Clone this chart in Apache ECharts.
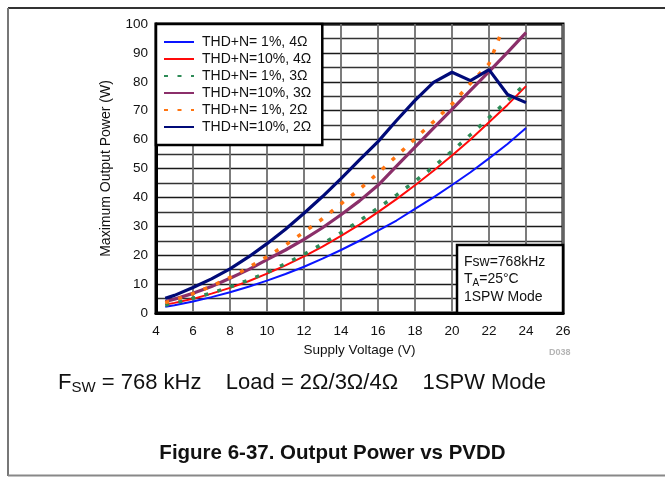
<!DOCTYPE html>
<html>
<head>
<meta charset="utf-8">
<script src="https://cdn.jsdelivr.net/npm/echarts@6/dist/echarts.min.js"></script>
<style>
  html, body { margin: 0; padding: 0; background: #fff; }
  #chart { width: 665px; height: 477px; }
</style>
</head>
<body>
<div id="chart"></div>
<script>
// Supply voltage sample points (V)
const voltage = [4.5, 5, 6, 7, 8, 9, 10, 11, 12, 13, 14, 15, 16, 17, 18, 19, 20, 21, 22, 23, 24];
const voltage2ohm1pct = [4.5, 5, 6, 7, 8, 9, 10, 11, 12, 13, 14, 15, 16, 17, 18, 19, 20, 21, 22, 22.6];

// Maximum output power (W)
const thd1pct4ohm  = [2.2, 2.7, 4.0, 5.5, 7.2, 9.1, 11.2, 13.5, 16.0, 18.8, 21.8, 25.0, 28.5, 32.0, 36.0, 40.0, 44.3, 48.7, 53.5, 58.5, 64.0];
const thd10pct4ohm = [2.9, 3.5, 4.9, 6.7, 8.7, 11.0, 13.6, 16.5, 19.6, 23.0, 26.7, 30.6, 34.9, 39.4, 44.2, 49.2, 54.5, 60.0, 66.0, 72.0, 78.5];
const thd1pct3ohm  = [2.7, 3.4, 5.1, 6.9, 9.0, 11.4, 14.0, 17.1, 20.3, 23.9, 27.8, 31.9, 36.3, 40.8, 45.6, 50.6, 56.0, 61.7, 67.6, 73.5, 79.5];
const thd10pct3ohm = [4.0, 4.8, 6.8, 9.2, 12.0, 15.0, 18.5, 21.8, 25.5, 29.5, 34.0, 38.8, 44.2, 50.8, 57.4, 64.0, 70.5, 77.0, 83.5, 90.2, 97.0];
const thd1pct2ohm  = [3.6, 4.5, 6.7, 9.3, 12.3, 15.7, 19.5, 23.5, 28.0, 32.6, 37.8, 42.8, 48.4, 54.3, 60.3, 66.2, 72.3, 79.5, 86.2, 96.0];
const thd10pct2ohm = [5.1, 6.1, 8.8, 11.8, 15.3, 19.4, 24.0, 29.0, 34.5, 40.3, 46.5, 53.0, 59.3, 66.6, 73.6, 79.8, 83.3, 80.4, 84.2, 75.6, 72.8];

// Axis ticks
const xTicks = [4, 6, 8, 10, 12, 14, 16, 18, 20, 22, 24, 26];
const yTicks = [0, 10, 20, 30, 40, 50, 60, 70, 80, 90, 100];

const seriesNames = [
  'THD+N= 1%, 4Ω', 'THD+N=10%, 4Ω', 'THD+N= 1%, 3Ω',
  'THD+N=10%, 3Ω', 'THD+N= 1%, 2Ω', 'THD+N=10%, 2Ω'
];

const FONT = '"Liberation Sans", Arial, Helvetica, sans-serif';

function pairs(xs, ys) { return xs.map((x, i) => [x, ys[i]]); }

function lineSeries(name, xs, ys, color, width, dash) {
  return {
    name: name,
    type: 'line',
    data: pairs(xs, ys),
    showSymbol: false,
    symbol: 'none',
    smooth: false,
    lineStyle: { color: color, width: width, type: dash || 'solid', cap: 'butt' },
    itemStyle: { color: color },
    z: 3
  };
}

const chart = echarts.init(document.getElementById('chart'), null, { renderer: 'canvas' });

const option = {
  backgroundColor: '#fff',
  animation: false,
  textStyle: { fontFamily: FONT },
  grid: {
    left: 156, top: 24, right: 102, bottom: 164,
    show: true, borderColor: '#000', borderWidth: 3, backgroundColor: 'transparent',
    containLabel: false
  },
  xAxis: {
    type: 'value',
    min: xTicks[0], max: xTicks[xTicks.length - 1], interval: 2,
    name: 'Supply Voltage (V)',
    nameLocation: 'middle', nameGap: 28,
    nameTextStyle: { fontSize: 13.5, color: '#111', fontFamily: FONT },
    axisLine: { show: true, lineStyle: { color: '#000', width: 3 } },
    axisTick: { show: false },
    axisLabel: { fontSize: 13.5, color: '#111', margin: 11, fontFamily: FONT },
    splitLine: { show: true, lineStyle: { color: '#6e6e6e', width: 1.8 } }
  },
  yAxis: {
    type: 'value',
    min: yTicks[0], max: yTicks[yTicks.length - 1], interval: 10,
    name: 'Maximum Output Power (W)',
    nameLocation: 'middle', nameGap: 43, nameRotate: 90,
    nameTextStyle: { fontSize: 14, color: '#111', fontFamily: FONT },
    axisLine: { show: true, lineStyle: { color: '#000', width: 3 } },
    axisTick: { show: false },
    axisLabel: { fontSize: 13.5, color: '#111', margin: 8, fontFamily: FONT },
    splitLine: { show: true, lineStyle: { color: '#1a1a1a', width: 1.3 } },
    minorTick: { show: false, splitNumber: 2 },
    minorSplitLine: { show: true, lineStyle: { color: '#333', width: 1.3 } }
  },
  legend: {
    orient: 'vertical',
    left: 156, top: 24,
    padding: [11, 11, 11, 7],
    itemWidth: 30, itemHeight: 14, itemGap: 3,
    backgroundColor: '#fff',
    borderColor: '#000', borderWidth: 2.5,
    itemStyle: { opacity: 0, borderWidth: 0 },
    textStyle: { fontSize: 14, color: '#111', fontFamily: FONT, lineHeight: 14, padding: [0, 0, 0, 3] },
    data: seriesNames,
    z: 10
  },
  series: [
    lineSeries(seriesNames[0], voltage, thd1pct4ohm, '#0a14ff', 2),
    lineSeries(seriesNames[1], voltage, thd10pct4ohm, '#ff0a0a', 2),
    lineSeries(seriesNames[2], voltage, thd1pct3ohm, '#2e8b57', 3.5, [4, 9.5]),
    lineSeries(seriesNames[3], voltage, thd10pct3ohm, '#8b2f6a', 3.2),
    lineSeries(seriesNames[4], voltage2ohm1pct, thd1pct2ohm, '#ff7410', 3.5, [4, 9.5]),
    lineSeries(seriesNames[5], voltage, thd10pct2ohm, '#000a78', 3.2)
  ],
  graphic: [
    // page frame
    { type: 'line', shape: { x1: 8, y1: 8, x2: 665, y2: 8 }, style: { stroke: '#333', lineWidth: 2 }, silent: true },
    { type: 'line', shape: { x1: 8, y1: 8, x2: 8, y2: 476 }, style: { stroke: '#777', lineWidth: 2 }, silent: true },
    { type: 'line', shape: { x1: 8, y1: 475.5, x2: 665, y2: 475.5 }, style: { stroke: '#888', lineWidth: 2 }, silent: true },
    // operating conditions box
    {
      type: 'rect', z: 20,
      shape: { x: 457, y: 245, width: 106, height: 68 },
      style: { fill: '#fff', stroke: '#000', lineWidth: 2.5 }
    },
    {
      type: 'text', z: 21, left: 464, top: 253,
      style: {
        text: 'Fsw=768kHz\n{n|T}{s|A}{n|=25°C}\n1SPW Mode',
        font: '14px ' + FONT, fill: '#111', lineHeight: 17.5,
        rich: {
          n: { fontSize: 14, fontFamily: FONT, fill: '#111' },
          s: { fontSize: 10, fontFamily: FONT, fill: '#111', verticalAlign: 'bottom', padding: [5, 0, 0, 0] }
        }
      }
    },
    {
      type: 'text', left: 549, top: 348,
      style: { text: 'D038', font: 'bold 9px ' + FONT, fill: '#b5b5b5' }
    },
    {
      type: 'text', left: 58, top: 372,
      style: {
        text: '{n|F}{s|SW}{n| = 768 kHz    Load = 2Ω/3Ω/4Ω    1SPW Mode}',
        rich: {
          n: { fontSize: 22, fontFamily: FONT, fill: '#111' },
          s: { fontSize: 15, fontFamily: FONT, fill: '#111', padding: [9, 0, 0, 0] }
        }
      }
    },
    {
      type: 'text', left: 'center', top: 443,
      style: { text: 'Figure 6-37. Output Power vs PVDD', font: 'bold 20.5px ' + FONT, fill: '#111' }
    }
  ]
};

chart.setOption(option);
</script>
</body>
</html>
